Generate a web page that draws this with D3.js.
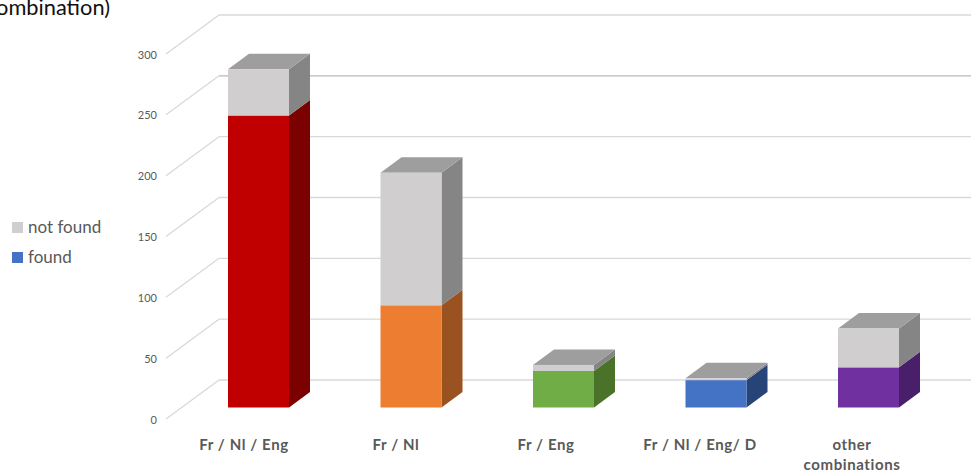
<!DOCTYPE html>
<html><head><meta charset="utf-8">
<script src="https://cdnjs.cloudflare.com/ajax/libs/d3/7.8.5/d3.min.js"></script>
<style>html,body{margin:0;padding:0;background:#fff}svg{display:block}text{font-family:Lato,"Open Sans",sans-serif}</style>
</head><body><svg id="c" width="971" height="472"></svg>
<script>
const categories=["Fr / Nl / Eng","Fr / Nl","Fr / Eng","Fr / Nl / Eng/ D","other combinations"];
const found=[240,84,30,22.5,33];
const notFound=[38,109,5,1.5,32];
const yTicks=[0,50,100,150,200,250,300];
const frontFound=["#c00000","#ed7d31","#70ad47","#4472c4","#7030a0"];
const sideFound=["#7b0000","#9a5220","#4a7229","#264478","#4a1f6a"];
const legendItems=[["not found","#d0cece"],["found","#4472c4"]];

const svg=d3.select("#c");
const y=d3.scaleLinear().domain([0,300]).range([407.5,42.5]);
const x=d3.scaleBand().domain(categories).range([228,899]).paddingInner(0.6).paddingOuter(0);
const dx=21,dy=-15.5;
const wallX=219,wallDy=-27.5;
const frontX=166,frontDy=11.5;

yTicks.forEach(t=>{
  const yy=y(t);
  svg.append("path")
    .attr("d",`M${frontX},${yy+frontDy}L${wallX},${yy+wallDy}`)
    .attr("fill","none").attr("stroke","#d9d9d9").attr("stroke-width",1.3);
  svg.append("path")
    .attr("d",`M${wallX},${yy+wallDy}L971,${yy+wallDy}`)
    .attr("fill","none").attr("stroke",t===250?"#b8b8b8":"#d9d9d9").attr("stroke-width",1.3);
  svg.append("text").attr("x",157).attr("y",yy+frontDy+4.5)
    .attr("text-anchor","end").attr("font-size",11).attr("fill","#595959").text(t);
});

categories.forEach((c,i)=>{
  const x0=x(c),w=x.bandwidth(),x1=x0+w;
  const f=found[i],n=notFound[i];
  const yb=y(0),yf=y(f),yt=y(f+n);
  svg.append("path").attr("d",`M${x1},${yb}L${x1+dx},${yb+dy}L${x1+dx},${yf+dy}L${x1},${yf}Z`).attr("fill",sideFound[i]);
  svg.append("path").attr("d",`M${x1},${yf}L${x1+dx},${yf+dy}L${x1+dx},${yt+dy}L${x1},${yt}Z`).attr("fill","#858585");
  svg.append("path").attr("d",`M${x0},${yt}L${x0+dx},${yt+dy}L${x1+dx},${yt+dy}L${x1},${yt}Z`).attr("fill","#9e9e9e");
  svg.append("rect").attr("x",x0).attr("y",yf).attr("width",w).attr("height",yb-yf).attr("fill",frontFound[i]);
  svg.append("rect").attr("x",x0).attr("y",yt).attr("width",w).attr("height",yf-yt).attr("fill","#d0cece");
});

const labelPos=[244,396,546,700,852];
categories.forEach((c,i)=>{
  const t=svg.append("text").attr("text-anchor","middle").attr("font-size",15)
    .attr("font-weight",700).attr("fill","#595959").attr("letter-spacing",0.6);
  if(c==="other combinations"){
    t.append("tspan").attr("x",labelPos[i]).attr("y",450).text("other");
    t.append("tspan").attr("x",labelPos[i]).attr("y",470).text("combinations");
  } else {
    t.attr("x",labelPos[i]).attr("y",450).text(c);
  }
});

legendItems.forEach((d,i)=>{
  const ly=222+i*30;
  svg.append("rect").attr("x",12).attr("y",ly).attr("width",11).attr("height",11).attr("fill",d[1]);
  svg.append("text").attr("x",28).attr("y",ly+11).attr("font-size",17).attr("fill","#595959").text(d[0]);
});

svg.append("text").attr("x",110).attr("y",15).attr("text-anchor","end")
  .attr("font-size",21.8).attr("fill","#111").text("combination)");
</script></body></html>
